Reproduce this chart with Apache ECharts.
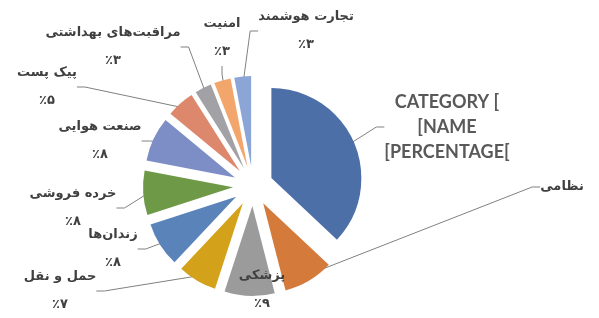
<!DOCTYPE html>
<html>
<head>
<meta charset="utf-8">
<script src="https://cdn.jsdelivr.net/npm/echarts@6/dist/echarts.min.js"></script>
<style>
html,body{margin:0;padding:0;background:#fff;}
#main{width:599px;height:318px;}
</style>
</head>
<body>
<div id="main"></div>
<script>
// سهم هر حوزه (درصد)
var names = ['CATEGORY NAME', 'نظامی', 'پزشکی', 'حمل و نقل', 'زندان‌ها', 'خرده فروشی',
             'صنعت هوایی', 'پیک پست', 'مراقبت‌های بهداشتی', 'امنیت', 'تجارت هوشمند'];
var values = [37, 9, 9, 7, 8, 8, 8, 5, 3, 3, 3];
var colors = ['#4d6fa8', '#d47b3c', '#9b9b9b', '#d3a11a', '#5a83ba', '#6e9a48',
              '#7d8dc6', '#dd876c', '#a2a2a6', '#f2a66c', '#8ba5d6'];

// محل برچسب ها (مرکز متن)
var labelPos = [[447, 127], [562, 187], [262, 290], [60, 291], [113, 249], [73, 208],
                [100, 141], [47, 87], [113, 47], [222, 38], [306, 31]];

var fa = '۰۱۲۳۴۵۶۷۸۹';
function toFa(n){
  return String(n).replace(/[0-9]/g, function(d){ return fa[+d]; });
}

var myChart = echarts.init(document.getElementById('main'));
var slices = [], labels = [];
for (var i = 0; i < names.length; i++) {
  slices.push({value: values[i], name: names[i], selected: true, itemStyle: {color: colors[i]}});
  labels.push({value: values[i], name: names[i]});
}

option = {
  animation: false,
  series: [{
    // برش های جدا شده
    type: 'pie',
    center: [253, 186],
    radius: 90,
    startAngle: 90,
    clockwise: true,
    selectedMode: 'multiple',
    selectedOffset: 20,
    itemStyle: {borderWidth: 0},
    label: {show: false},
    labelLine: {show: false},
    emphasis: {disabled: true},
    silent: true,
    data: slices
  }, {
    // فقط برچسب ها
    type: 'pie',
    center: [253, 186],
    radius: 104,
    startAngle: 90,
    clockwise: true,
    selectedMode: false,
    silent: true,
    itemStyle: {color: 'rgba(0,0,0,0)', borderWidth: 0},
    label: {
      show: true,
      fontFamily: 'DejaVu Sans',
      fontSize: 13,
      fontWeight: 'bold',
      color: '#404040',
      lineHeight: 28,
      align: 'center',
      formatter: function(p){
        if (p.dataIndex === 0) return '{en|CATEGORY [}\n{en|[NAME}\n{en|[PERCENTAGE[}';
        if (p.dataIndex === 1) return p.name;
        return p.name + '\n' + '٪' + toFa(p.value);
      },
      rich: {
        en: {fontFamily: 'Lato', fontSize: 18, fontWeight: 'bold', color: '#595959', lineHeight: 25}
      }
    },
    labelLine: {show: true, length: 10, length2: 8, lineStyle: {color: '#808080', width: 1}},
    labelLayout: function(p){
      var q = labelPos[p.dataIndex];
      return {x: q[0], y: q[1], align: 'center', verticalAlign: 'middle'};
    },
    emphasis: {disabled: true},
    data: labels
  }]
};
myChart.setOption(option);
</script>
</body>
</html>
